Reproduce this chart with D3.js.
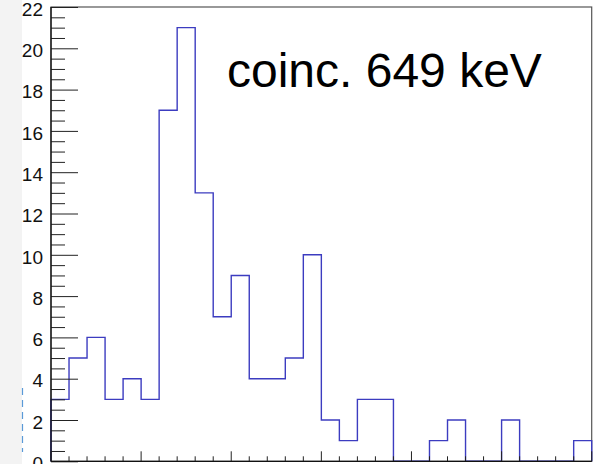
<!DOCTYPE html>
<html>
<head>
<meta charset="utf-8">
<script src="https://cdn.jsdelivr.net/npm/d3@7"></script>
<style>
  body { margin: 0; background: #fff; }
  svg { display: block; }
  text { font-family: "Liberation Sans", Arial, Helvetica, sans-serif; }
</style>
</head>
<body>
<svg width="596" height="464"></svg>
<script>
// counts per bin, 30 bins
const counts = [3, 5, 6, 3, 4, 3, 17, 21, 13, 7,
                9, 4, 4, 5, 10, 2, 1, 3, 3, 0,
                0, 1, 2, 0, 0, 2, 0, 0, 0, 1]
const yMajorTicks = [0, 2, 4, 6, 8, 10, 12, 14, 16, 18, 20, 22]
const label = "coinc. 649 keV"

const svg = d3.select("svg")

const frameLeft = 51, frameRight = 591.7,
      frameTop = 7, frameBottom = 461.3

const x = d3.scaleLinear()
    .domain([0, counts.length])
    .range([frameLeft, frameRight])

const y = d3.scaleLinear()
    .domain([0, 22])
    .range([frameBottom, frameTop])

// grey strip at the left edge of the screenshot
svg.append("rect")
    .attr("x", 0).attr("y", 0)
    .attr("width", 22).attr("height", 464)
    .attr("fill", "#f3f3f3")

svg.append("line")
    .attr("x1", 22.5).attr("x2", 22.5)
    .attr("y1", 388).attr("y2", 452)
    .attr("stroke", "#5a9ad8")
    .attr("stroke-width", 1.2)
    .attr("stroke-dasharray", "7,5")

// frame
svg.append("rect")
    .attr("x", frameLeft).attr("y", frameTop)
    .attr("width", frameRight - frameLeft).attr("height", frameBottom - frameTop)
    .attr("fill", "none")
    .attr("stroke", "#555")
    .attr("stroke-width", 1.2)

// histogram outline
const pts = [[0, 0]]
counts.forEach(function(c, i) {
  pts.push([i, c])
  pts.push([i + 1, c])
})
pts.push([counts.length, 0])

const line = d3.line()
    .x(function(d) { return x(d[0]) })
    .y(function(d) { return y(d[1]) })

svg.append("path")
    .attr("d", line(pts))
    .attr("fill", "none")
    .attr("stroke", "#3c3cc0")
    .attr("stroke-width", 1.4)

// y axis
const yMinor = d3.range(0, 22.01, 0.5).filter(function(v) { return v % 2 !== 0 })

const yAxisMajor = d3.axisRight(y)
    .tickValues(yMajorTicks)
    .tickSize(27)
    .tickFormat("")

const yAxisMinor = d3.axisRight(y)
    .tickValues(yMinor)
    .tickSize(14)
    .tickFormat("")

svg.append("g")
    .attr("transform", "translate(" + frameLeft + ",0)")
    .call(yAxisMinor)
    .call(function(g) { g.select(".domain").remove() })
    .selectAll("line").attr("stroke", "#222")

svg.append("g")
    .attr("transform", "translate(" + frameLeft + ",0)")
    .call(yAxisMajor)
    .call(function(g) { g.select(".domain").remove() })
    .selectAll("line").attr("stroke", "#222")

svg.append("g")
  .selectAll("text")
  .data(yMajorTicks)
  .enter().append("text")
    .attr("x", frameLeft - 8)
    .attr("y", function(d) { return y(d) })
    .attr("dy", "0.46em")
    .attr("text-anchor", "end")
    .attr("font-size", 19)
    .attr("fill", "#111")
    .text(function(d) { return d })

svg.append("line")
    .attr("x1", frameLeft).attr("x2", frameLeft)
    .attr("y1", frameTop).attr("y2", frameBottom)
    .attr("stroke", "#111")
    .attr("stroke-width", 1.3)

// x axis, one tick per bin, long ones every 5 bins
const xTicks = d3.range(0, counts.length + 1)

svg.append("g")
  .selectAll("line")
  .data(xTicks)
  .enter().append("line")
    .attr("x1", function(d) { return x(d) })
    .attr("x2", function(d) { return x(d) })
    .attr("y1", frameBottom)
    .attr("y2", function(d) { return d % 5 === 0 ? frameBottom - 10 : frameBottom - 5 })
    .attr("stroke", "#222")

svg.append("line")
    .attr("x1", frameLeft).attr("x2", frameRight)
    .attr("y1", frameBottom).attr("y2", frameBottom)
    .attr("stroke", "#111")
    .attr("stroke-width", 1.3)

// annotation
svg.append("text")
    .attr("x", 227)
    .attr("y", 87)
    .attr("font-size", 48)
    .attr("fill", "#000")
    .text(label)
</script>
</body>
</html>
